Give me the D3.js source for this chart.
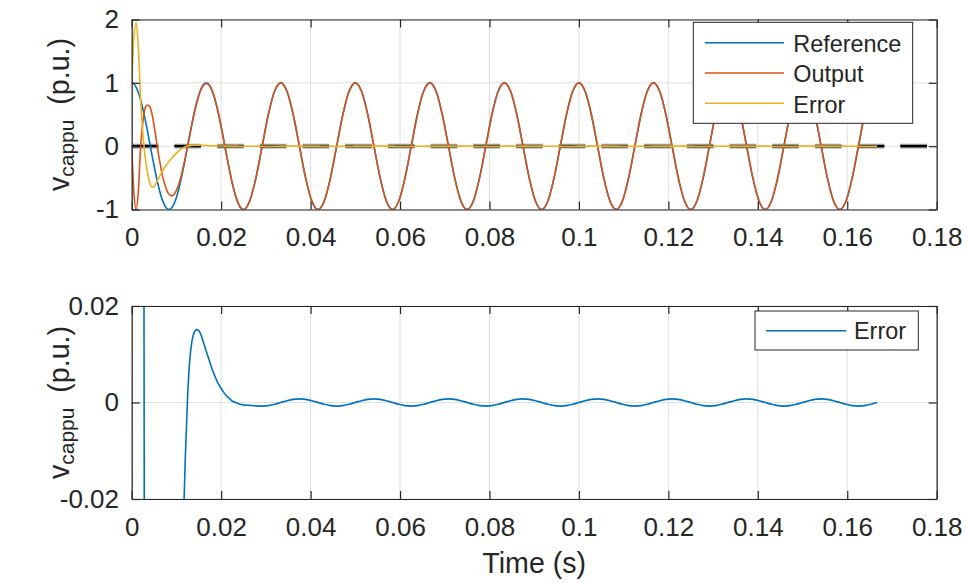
<!DOCTYPE html>
<html><head><meta charset="utf-8">
<script src="https://cdn.jsdelivr.net/npm/d3@7"></script>
<style>
body{margin:0;background:#fff}
svg{display:block}
text{font-family:"Liberation Sans",Arial,Helvetica,sans-serif;fill:#262626;white-space:pre}
</style>
</head><body>
<svg id="c" width="967" height="583"></svg>
<script>
// ---------- data ----------
const time = [
 0,0.0005,0.001,0.0015,0.002,0.0025,0.003,0.0035,0.004,0.0045,0.005,0.0055,0.006,0.0065,0.007,0.0075,0.008,0.0085,0.009,0.0095,
 0.01,0.0105,0.011,0.0115,0.012,0.0125,0.013,0.0135,0.014,0.0145,0.015,0.0155,0.016,0.0165,0.017,0.0175,0.018,0.0185,0.019,0.0195,
 0.02,0.0205,0.021,0.0215,0.022,0.0225,0.023,0.0235,0.024,0.0245,0.025,
 0.026389,0.027778,0.029167,0.030556,0.031944,
 0.033333,0.034722,0.036111,0.0375,0.038889,0.040278,0.041667,0.043056,0.044444,0.045833,0.047222,0.048611,
 0.05,0.051389,0.052778,0.054167,0.055556,0.056944,0.058333,0.059722,0.061111,0.0625,0.063889,0.065278,
 0.066667,0.068056,0.069444,0.070833,0.072222,0.073611,0.075,0.076389,0.077778,0.079167,0.080556,0.081944,
 0.083333,0.084722,0.086111,0.0875,0.088889,0.090278,0.091667,0.093056,0.094444,0.095833,0.097222,0.098611,
 0.1,0.101389,0.102778,0.104167,0.105556,0.106944,0.108333,0.109722,0.111111,0.1125,0.113889,0.115278,
 0.116667,0.118056,0.119444,0.120833,0.122222,0.123611,0.125,0.126389,0.127778,0.129167,0.130556,0.131944,
 0.133333,0.134722,0.136111,0.1375,0.138889,0.140278,0.141667,0.143056,0.144444,0.145833,0.147222,0.148611,
 0.15,0.151389,0.152778,0.154167,0.155556,0.156944,0.158333,0.159722,0.161111,0.1625,0.163889,0.165278,
 0.166667
];
const reference = [
 1,0.9823,0.9298,0.8443,0.729,0.5878,0.4258,0.2487,0.0628,-0.1253,-0.309,-0.4818,-0.6374,-0.7705,-0.8763,-0.9511,-0.9921,-0.998,-0.9686,-0.9048,
 -0.809,-0.6845,-0.5358,-0.3681,-0.1874,0,0.1874,0.3681,0.5358,0.6845,0.809,0.9048,0.9686,0.998,0.9921,0.9511,0.8763,0.7705,0.6374,0.4818,
 0.309,0.1253,-0.0628,-0.2487,-0.4258,-0.5878,-0.729,-0.8443,-0.9298,-0.9823,-1,
 -0.866,-0.5,0,0.5,0.866,
 1,0.866,0.5,0,-0.5,-0.866,-1,-0.866,-0.5,0,0.5,0.866,
 1,0.866,0.5,0,-0.5,-0.866,-1,-0.866,-0.5,0,0.5,0.866,
 1,0.866,0.5,0,-0.5,-0.866,-1,-0.866,-0.5,0,0.5,0.866,
 1,0.866,0.5,0,-0.5,-0.866,-1,-0.866,-0.5,0,0.5,0.866,
 1,0.866,0.5,0,-0.5,-0.866,-1,-0.866,-0.5,0,0.5,0.866,
 1,0.866,0.5,0,-0.5,-0.866,-1,-0.866,-0.5,0,0.5,0.866,
 1,0.866,0.5,0,-0.5,-0.866,-1,-0.866,-0.5,0,0.5,0.866,
 1,0.866,0.5,0,-0.5,-0.866,-1,-0.866,-0.5,0,0.5,0.866,
 1
];
const output = [
 0,-0.75,-1,-0.7,0,0.38,0.6,0.65,0.63,0.52,0.33,0.1,-0.13,-0.33,-0.5,-0.63,-0.72,-0.77,-0.785,-0.76,
 -0.699,-0.607,-0.486,-0.341,-0.176,-0.001,0.178,0.355,0.521,0.669,0.794,0.891,0.956,0.987,0.982,0.943,0.869,0.765,0.633,0.478,
 0.306,0.123,-0.064,-0.25,-0.427,-0.588,-0.729,-0.844,-0.93,-0.982,-1,
 -0.866,-0.5,0,0.5,0.866,
 1,0.866,0.5,0,-0.5,-0.866,-1,-0.866,-0.5,0,0.5,0.866,
 1,0.866,0.5,0,-0.5,-0.866,-1,-0.866,-0.5,0,0.5,0.866,
 1,0.866,0.5,0,-0.5,-0.866,-1,-0.866,-0.5,0,0.5,0.866,
 1,0.866,0.5,0,-0.5,-0.866,-1,-0.866,-0.5,0,0.5,0.866,
 1,0.866,0.5,0,-0.5,-0.866,-1,-0.866,-0.5,0,0.5,0.866,
 1,0.866,0.5,0,-0.5,-0.866,-1,-0.866,-0.5,0,0.5,0.866,
 1,0.866,0.5,0,-0.5,-0.866,-1,-0.866,-0.5,0,0.5,0.866,
 1,0.866,0.5,0,-0.5,-0.866,-1,-0.866,-0.5,0,0.5,0.866,
 1
];
const errorSignal = [
 1,1.73,1.95,1.54,0.73,0.21,-0.17,-0.4,-0.567,-0.645,-0.639,-0.58,-0.507,-0.44,-0.376,-0.321,-0.272,-0.228,-0.184,-0.145,
 -0.11,-0.078,-0.05,-0.027,-0.011,0.0012,0.009,0.0129,0.0146,0.0151,0.0149,0.014,0.0126,0.0111,0.0097,0.0083,0.0069,0.0057,0.0046,0.0037,
 0.0029,0.0022,0.0016,0.0011,0.0007,0.0003,0.0001,-0.0001,-0.0003,-0.0004,-0.0005,
 -0.0006,-0.0007,-0.00075,-0.00065,-0.000375,
 0,0.000375,0.00065,0.00075,0.00065,0.000375,0,-0.000375,-0.00065,-0.00075,-0.00065,-0.000375,
 0,0.000375,0.00065,0.00075,0.00065,0.000375,0,-0.000375,-0.00065,-0.00075,-0.00065,-0.000375,
 0,0.000375,0.00065,0.00075,0.00065,0.000375,0,-0.000375,-0.00065,-0.00075,-0.00065,-0.000375,
 0,0.000375,0.00065,0.00075,0.00065,0.000375,0,-0.000375,-0.00065,-0.00075,-0.00065,-0.000375,
 0,0.000375,0.00065,0.00075,0.00065,0.000375,0,-0.000375,-0.00065,-0.00075,-0.00065,-0.000375,
 0,0.000375,0.00065,0.00075,0.00065,0.000375,0,-0.000375,-0.00065,-0.00075,-0.00065,-0.000375,
 0,0.000375,0.00065,0.00075,0.00065,0.000375,0,-0.000375,-0.00065,-0.00075,-0.00065,-0.000375,
 0,0.000375,0.00065,0.00075,0.00065,0.000375,0,-0.000375,-0.00065,-0.00075,-0.00065,-0.000375,
 0
];
const zeroLineTime = [0, 0.18];
const zeroLineValue = [0, 0];

const xTicks = [0,0.02,0.04,0.06,0.08,0.1,0.12,0.14,0.16,0.18];
const xTickLabels = ["0","0.02","0.04","0.06","0.08","0.1","0.12","0.14","0.16","0.18"];
const yTicksTop = [-1,0,1,2];
const yTickLabelsTop = ["-1","0","1","2"];
const yTicksBottom = [-0.02,0,0.02];
const yTickLabelsBottom = ["-0.02","0","0.02"];
const topSeriesNames = ["Reference","Output","Error"];
const topSeriesColors = ["#0072BD","#D95319","#EDB120"];
const bottomSeriesName = "Error";
const bottomSeriesColor = "#0072BD";
const xLabel = "Time (s)";

// ---------- drawing ----------
const svg = d3.select("#c");
const FONT = '"Liberation Sans",Arial,Helvetica,sans-serif';
const TICK_FS = 26, LABEL_FS = 28.6, LEGEND_FS = 23.4;
const AX = "#262626";

const x = d3.scaleLinear().domain([0, 0.18]).range([131.7, 936.7]);
const yTop = d3.scaleLinear().domain([-1, 2]).range([209.5, 19.5]);
const yBot = d3.scaleLinear().domain([-0.02, 0.02]).range([499, 306]);

function panel(y, yTicks, yLabels, clipId){
  const [yb, yt] = y.range();
  const g = svg.append("g");
  g.append("g").selectAll("line").data(xTicks).join("line")
    .attr("x1", d => x(d)).attr("x2", d => x(d)).attr("y1", yb).attr("y2", yt)
    .attr("stroke", "#dfdfdf").attr("stroke-width", 1);
  g.append("g").selectAll("line").data(yTicks).join("line")
    .attr("x1", x(0)).attr("x2", x(0.18)).attr("y1", d => y(d)).attr("y2", d => y(d))
    .attr("stroke", "#dfdfdf").attr("stroke-width", 1);
  svg.append("clipPath").attr("id", clipId).append("rect")
    .attr("x", x(0)).attr("y", yt).attr("width", x(0.18) - x(0)).attr("height", yb - yt);
  const data = g.append("g").attr("clip-path", `url(#${clipId})`);
  return {g, data, yb, yt};
}

function axes(p, y, yTicks, yLabels){
  const style = sel => {
    sel.attr("font-family", FONT).attr("font-size", TICK_FS);
    sel.selectAll("path.domain").attr("stroke", AX).attr("stroke-width", 1.2);
    sel.selectAll(".tick line").attr("stroke", AX).attr("stroke-width", 1.2);
    sel.selectAll(".tick text").attr("fill", AX);
  };
  p.g.append("g").attr("transform", `translate(0,${p.yb})`)
    .call(d3.axisBottom(x).tickValues(xTicks).tickFormat((d,i) => xTickLabels[i])
      .tickSizeInner(-8).tickSizeOuter(0).tickPadding(18.2)).call(style);
  p.g.append("g").attr("transform", `translate(0,${p.yt})`)
    .call(d3.axisTop(x).tickValues(xTicks).tickFormat(() => "")
      .tickSizeInner(-8).tickSizeOuter(0)).call(style);
  p.g.append("g").attr("transform", `translate(${x(0)},0)`)
    .call(d3.axisLeft(y).tickValues(yTicks).tickFormat((d,i) => yLabels[i])
      .tickSizeInner(-8).tickSizeOuter(0).tickPadding(12.7)).call(style);
  p.g.append("g").attr("transform", `translate(${x(0.18)},0)`)
    .call(d3.axisRight(y).tickValues(yTicks).tickFormat(() => "")
      .tickSizeInner(-8).tickSizeOuter(0)).call(style);
}

function yLabel(cy){
  const t = svg.append("text")
    .attr("transform", `translate(69,${cy}) rotate(-90)`)
    .attr("text-anchor", "middle").attr("font-size", LABEL_FS);
  t.append("tspan").text("v");
  t.append("tspan").attr("font-size", 21).attr("dy", 5).text("cappu");
  t.append("tspan").attr("dy", -5).attr("dx", 7).text(" (p.u.)");
}

const idx = d3.range(time.length);

// ---- top panel ----
const pTop = panel(yTop, yTicksTop, yTickLabelsTop, "clipTop");
const zeroLine = d3.line().x((d,i) => x(zeroLineTime[i])).y((d,i) => yTop(zeroLineValue[i]));
pTop.data.append("path").datum(zeroLineTime).attr("d", zeroLine)
  .attr("fill", "none").attr("stroke", "#9a9a9a").attr("stroke-width", 4.6)
  .attr("stroke-dasharray", "26.7,16");
pTop.data.append("path").datum(zeroLineTime).attr("d", zeroLine)
  .attr("fill", "none").attr("stroke", "#000").attr("stroke-width", 2.4)
  .attr("stroke-dasharray", "26.7,16");
[reference, output, errorSignal].forEach((s, k) => {
  const line = d3.line().curve(d3.curveMonotoneX).x(i => x(time[i])).y(i => yTop(s[i]));
  pTop.data.append("path").datum(idx).attr("d", line)
    .attr("fill", "none").attr("stroke", topSeriesColors[k]).attr("stroke-width", 1.6)
    .attr("stroke-linejoin", "round");
});
axes(pTop, yTop, yTicksTop, yTickLabelsTop);
yLabel((yTop.range()[0] + yTop.range()[1]) / 2);

{
  const lg = svg.append("g");
  lg.append("rect").attr("x", 693.3).attr("y", 22.3).attr("width", 219.4).attr("height", 101)
    .attr("fill", "#fff").attr("stroke", AX).attr("stroke-width", 1);
  topSeriesNames.forEach((n, k) => {
    const ly = 42.7 + k * 30.3;
    lg.append("line").attr("x1", 705).attr("x2", 784).attr("y1", ly).attr("y2", ly)
      .attr("stroke", topSeriesColors[k]).attr("stroke-width", 1.6);
    lg.append("text").attr("x", 793.3).attr("y", ly + 9.4).attr("font-size", LEGEND_FS)
      .attr("fill", "#000").text(n);
  });
}

// ---- bottom panel ----
const pBot = panel(yBot, yTicksBottom, yTickLabelsBottom, "clipBot");
{
  const line = d3.line().curve(d3.curveMonotoneX).x(i => x(time[i])).y(i => yBot(errorSignal[i]));
  pBot.data.append("path").datum(idx).attr("d", line)
    .attr("fill", "none").attr("stroke", bottomSeriesColor).attr("stroke-width", 1.6)
    .attr("stroke-linejoin", "round");
}
axes(pBot, yBot, yTicksBottom, yTickLabelsBottom);
yLabel((yBot.range()[0] + yBot.range()[1]) / 2);

{
  const lg = svg.append("g");
  lg.append("rect").attr("x", 755).attr("y", 311).attr("width", 163.3).attr("height", 39)
    .attr("fill", "#fff").attr("stroke", AX).attr("stroke-width", 1);
  lg.append("line").attr("x1", 766).attr("x2", 846).attr("y1", 330.7).attr("y2", 330.7)
    .attr("stroke", bottomSeriesColor).attr("stroke-width", 1.6);
  lg.append("text").attr("x", 854).attr("y", 339.3).attr("font-size", LEGEND_FS)
    .attr("fill", "#000").text(bottomSeriesName);
}

svg.append("text").attr("x", (x(0) + x(0.18)) / 2).attr("y", 573.3)
  .attr("text-anchor", "middle").attr("font-size", LABEL_FS).text(xLabel);
</script>
</body></html>
